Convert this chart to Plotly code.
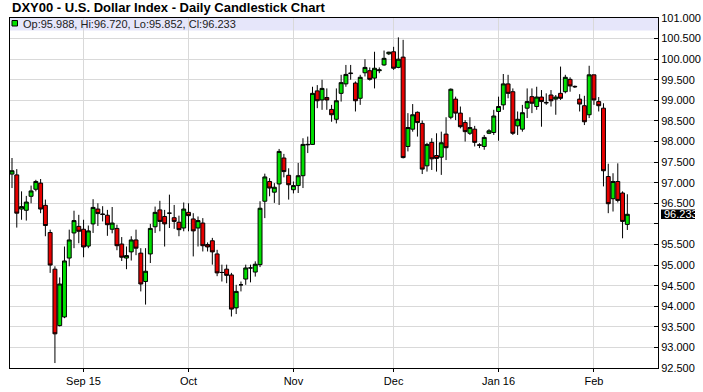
import pandas as pd
import plotly.graph_objects as go

# ---- data ----
opens = [97.21, 97.19, 96.36, 96.33, 96.67, 96.84, 96.99, 96.45, 95.79, 94.90,
         93.53, 93.74, 95.17, 95.78, 95.94, 95.87, 95.46, 96.00, 96.36, 96.24,
         96.21, 95.87, 95.89, 95.51, 95.17, 95.32, 95.61, 95.29, 94.60, 95.27,
         95.93, 96.34, 96.18, 96.26, 96.15, 96.04, 95.90, 96.28, 96.12, 95.90,
         96.02, 95.50, 95.59, 95.27, 94.82, 94.90, 94.76, 93.96, 94.52, 94.66,
         94.93, 94.83, 95.01, 96.55, 97.03, 96.77, 96.97, 97.60, 97.18, 96.83,
         96.93, 97.17, 97.92, 97.93, 99.23, 99.01, 99.07, 98.78, 98.54, 99.17,
         99.40, 99.65, 99.42, 99.05, 99.67, 99.72, 99.54, 99.72, 99.86, 100.13,
         100.18, 99.80, 100.05, 97.88, 98.30, 98.71, 98.44, 97.41, 97.98, 97.66,
         97.62, 98.18, 98.59, 99.03, 98.69, 98.46, 98.20, 98.30, 97.92, 97.88,
         98.20, 98.22, 98.73, 98.89, 99.40, 99.21, 98.38, 98.30, 98.81, 99.09,
         98.85, 99.08, 98.95, 99.13, 99.03, 99.17, 99.21, 99.51, 99.34, 99.03,
         98.87, 98.65, 99.62, 98.97, 98.81, 97.15, 96.61, 97.03, 96.75, 95.988]
highs = [97.60, 97.33, 96.79, 96.68, 96.93, 97.07, 97.09, 96.59, 95.86, 94.97,
         94.70, 95.45, 95.86, 96.32, 96.22, 96.10, 95.96, 96.60, 96.50, 96.43,
         96.34, 96.41, 95.98, 95.68, 95.45, 95.70, 95.86, 95.41, 95.41, 96.00,
         96.42, 96.56, 96.34, 96.71, 96.46, 96.20, 96.52, 96.50, 96.26, 96.18,
         96.14, 95.55, 95.66, 95.37, 95.01, 95.01, 94.81, 94.52, 94.60, 95.01,
         95.01, 95.09, 96.55, 97.22, 97.11, 96.99, 97.82, 97.70, 97.35, 97.03,
         97.48, 98.08, 98.12, 99.33, 99.37, 99.50, 99.29, 98.89, 99.29, 99.62,
         99.86, 99.86, 99.46, 99.62, 100.00, 99.80, 100.18, 99.80, 100.21, 100.18,
         100.30, 100.53, 100.47, 98.69, 98.91, 98.73, 98.51, 97.97, 98.08, 98.20,
         98.24, 98.59, 99.29, 99.09, 98.85, 98.52, 98.59, 98.38, 97.96, 98.16,
         98.30, 98.77, 99.09, 99.64, 99.62, 99.29, 98.73, 98.89, 99.29, 99.29,
         99.33, 99.25, 99.17, 99.25, 99.13, 99.82, 99.62, 99.56, 99.36, 99.15,
         99.11, 99.84, 99.62, 99.08, 98.93, 97.46, 97.23, 97.47, 96.79, 96.720]
lows = [96.87, 95.91, 96.10, 96.08, 96.50, 96.79, 96.26, 95.70, 94.81, 92.62,
        93.51, 93.71, 94.97, 95.41, 95.53, 95.19, 95.41, 95.78, 95.95, 96.06,
        95.71, 95.77, 95.36, 95.10, 94.90, 95.11, 95.24, 94.36, 94.04, 95.05,
        95.78, 95.82, 95.45, 95.90, 95.88, 95.70, 95.82, 95.82, 95.21, 95.45,
        95.33, 95.33, 95.01, 94.73, 94.60, 94.56, 93.75, 93.81, 94.36, 94.52,
        94.58, 94.72, 94.95, 96.14, 96.67, 96.51, 96.46, 97.13, 96.59, 96.74,
        96.75, 96.87, 97.72, 97.92, 98.81, 98.77, 98.77, 98.48, 98.44, 98.97,
        99.33, 99.50, 98.73, 98.89, 99.58, 99.48, 99.29, 99.66, 99.84, 100.10,
        99.74, 99.78, 97.59, 97.76, 98.24, 98.12, 97.21, 97.27, 97.31, 97.27,
        97.19, 97.55, 98.54, 98.52, 98.32, 98.00, 98.16, 97.88, 97.84, 97.80,
        98.18, 98.16, 98.02, 98.77, 99.05, 98.16, 98.16, 98.24, 98.57, 98.69,
        98.77, 98.36, 98.89, 98.85, 98.65, 99.01, 99.17, 99.21, 99.30, 98.73,
        98.40, 98.57, 98.89, 98.73, 96.91, 96.26, 96.30, 96.52, 95.65, 95.852]
closes = [97.29, 96.26, 96.42, 96.53, 96.80, 97.03, 96.36, 95.96, 95.00, 93.33,
          94.54, 95.10, 95.61, 96.08, 95.82, 95.44, 95.83, 96.40, 96.25, 96.23,
          95.98, 96.02, 95.47, 95.19, 95.23, 95.61, 95.41, 94.54, 94.85, 95.89,
          96.28, 96.06, 96.00, 96.26, 96.06, 95.86, 96.36, 96.20, 95.83, 96.08,
          95.47, 95.44, 95.32, 94.81, 94.82, 94.75, 93.93, 94.36, 94.52, 94.93,
          94.93, 95.02, 96.38, 97.14, 96.87, 96.89, 97.76, 97.27, 96.95, 96.93,
          97.17, 97.93, 97.93, 99.17, 98.99, 99.29, 99.01, 98.65, 98.99, 99.43,
          99.63, 99.66, 98.99, 99.56, 99.80, 99.51, 99.78, 99.74, 100.02, 100.17,
          99.78, 100.00, 97.61, 98.34, 98.65, 98.46, 97.33, 97.93, 97.58, 97.59,
          97.97, 97.85, 99.27, 98.69, 98.36, 98.24, 98.34, 97.98, 97.91, 98.10,
          98.26, 98.62, 98.85, 99.40, 99.17, 98.20, 98.54, 98.70, 98.97, 98.93,
          99.08, 98.97, 98.94, 98.99, 99.08, 99.05, 99.56, 99.35, 99.33, 98.91,
          98.48, 99.62, 99.01, 98.87, 97.29, 96.49, 97.03, 96.57, 96.06, 96.233]

# trading days shown (Aug 11 2015 .. Feb 10 2016, exchange closed Dec 25 / Jan 1)
days = pd.bdate_range("2015-08-11", "2016-02-10")
days = days[~days.isin(pd.to_datetime(["2015-12-25", "2016-01-01"]))]
dates = [d.strftime("%Y-%m-%d") for d in days]

month_ticks = ["2015-09-01", "2015-10-01", "2015-11-02", "2015-12-01", "2016-01-04", "2016-02-01"]
month_labels = ["Sep 15", "Oct", "Nov", "Dec", "Jan 16", "Feb"]

price_ticks = [92.5, 93.0, 93.5, 94.0, 94.5, 95.0, 95.5, 96.0, 96.5, 97.0,
               97.5, 98.0, 98.5, 99.0, 99.5, 100.0, 100.5, 101.0]
price_labels = ["92.500", "93.000", "93.500", "94.000", "94.500", "95.000", "95.500", "",
                "96.500", "97.000", "97.500", "98.000", "98.500", "99.000", "99.500",
                "100.000", "100.500", "101.000"]

title_text = "DXY00 - U.S. Dollar Index - Daily Candlestick Chart"
last_label = "96.233"
legend_text = "Op:95.988, Hi:96.720, Lo:95.852, Cl:96.233"

n = len(dates)
assert n == len(opens) == len(highs) == len(lows) == len(closes), n

GREEN = "#00e000"
RED = "#e60000"
FONT = "Liberation Sans, Arial, sans-serif"

fig = go.Figure(go.Candlestick(
    x=dates, open=opens, high=highs, low=lows, close=closes,
    increasing=dict(fillcolor=GREEN, line=dict(color="black", width=1)),
    decreasing=dict(fillcolor=RED, line=dict(color="black", width=1)),
    whiskerwidth=0, showlegend=False, hoverinfo="skip",
))

W, H = 703, 392
ml, mr, mt, mb = 10, 45, 18, 24
pw = W - ml - mr
ph = H - mt - mb
step = 4.77
x0 = -2.0 / step
x1 = x0 + pw / step

fig.update_layout(
    width=W, height=H,
    margin=dict(l=ml, r=mr, t=mt, b=mb, pad=0),
    paper_bgcolor="white", plot_bgcolor="white",
    boxgap=0.18, boxgroupgap=0,
    font=dict(family=FONT, size=11, color="black"),
    xaxis=dict(
        type="category", range=[x0, x1], automargin=False,
        rangeslider=dict(visible=False),
        tickmode="array", tickvals=month_ticks, ticktext=month_labels,
        showgrid=True, gridcolor="#d9d9d9", gridwidth=1,
        showline=True, linecolor="black", linewidth=1, mirror=True,
        ticks="outside", ticklen=3, tickcolor="black",
        tickfont=dict(size=11, color="black", family=FONT),
        fixedrange=True,
    ),
    yaxis=dict(
        side="right", range=[92.5, 101.0], automargin=False,
        tickmode="array", tickvals=price_ticks, ticktext=price_labels,
        showgrid=True, gridcolor="#d9d9d9", gridwidth=1,
        showline=True, linecolor="black", linewidth=1, mirror=True,
        ticks="inside", ticklen=4, tickcolor="black",
        tickfont=dict(size=11, color="black", family=FONT),
        zeroline=False, fixedrange=True,
    ),
    shapes=[
        # legend band across top of plot
        dict(type="rect", xref="paper", yref="paper",
             x0=0, x1=1, y0=1 - 12.5 / ph, y1=1,
             fillcolor="#e6e6fa", line=dict(width=0), layer="below"),
        # green legend marker
        dict(type="rect", xref="paper", yref="paper",
             x0=2.0 / pw, x1=7.5 / pw, y0=1 - 8.0 / ph, y1=1 - 2.5 / ph,
             fillcolor=GREEN, line=dict(color="black", width=1), layer="above"),
        # black box behind last-price label
        dict(type="rect", xref="paper", yref="y",
             x0=1 + 3.0 / pw, x1=1 + 37.0 / pw,
             y0=96.233 - 4.8 / (ph / 8.5), y1=96.233 + 4.8 / (ph / 8.5),
             fillcolor="black", line=dict(width=0), layer="above"),
    ],
    annotations=[
        dict(text="<b>" + title_text + "</b>", xref="paper", yref="paper",
             x=0, y=1 + 10.5 / ph, xanchor="left", yanchor="middle",
             showarrow=False, font=dict(size=13, color="black", family=FONT)),
        dict(text=legend_text, xref="paper", yref="paper",
             x=10.5 / pw, y=1 - 5.8 / ph, xanchor="left", yanchor="middle",
             showarrow=False, font=dict(size=11, color="#222222", family=FONT)),
        dict(text=last_label, xref="paper", yref="y",
             x=1 + 3.5 / pw, y=96.233, xanchor="left", yanchor="middle",
             showarrow=False, font=dict(size=11, color="white", family=FONT)),
    ],
)

fig.write_html("out.html", config={"displayModeBar": False})
